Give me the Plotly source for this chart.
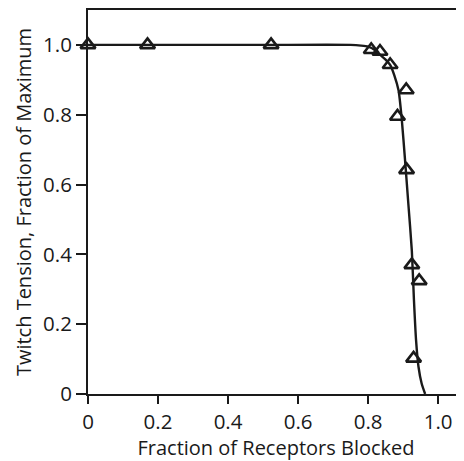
import plotly.graph_objects as go

# Data points (open triangles)
pts_x = [0.0, 0.17, 0.523, 0.809, 0.834, 0.863, 0.909, 0.884, 0.910, 0.925, 0.946, 0.930]
pts_y = [1.0, 1.0, 1.0, 0.986, 0.981, 0.943, 0.871, 0.795, 0.642, 0.37, 0.324, 0.102]

# Fitted curve
curve_x = [0.0, 0.5, 0.75, 0.78, 0.80, 0.82, 0.834, 0.85, 0.863, 0.875, 0.887, 0.896,
           0.906, 0.915, 0.925, 0.931, 0.937, 0.944, 0.953, 0.963]
curve_y = [1.0, 1.0, 1.0, 0.998, 0.995, 0.985, 0.972, 0.958, 0.943, 0.913, 0.87, 0.79,
           0.665, 0.545, 0.41, 0.27, 0.155, 0.078, 0.03, 0.0]

tick_vals = [0, 0.2, 0.4, 0.6, 0.8, 1.0]
tick_text = ["0", "0.2", "0.4", "0.6", "0.8", "1.0"]

ink = "#1a1a1a"
font = "Open Sans"
fs = 20
tfs = 20.5

fig = go.Figure()
fig.add_trace(go.Scatter(x=curve_x, y=curve_y, mode="lines",
                         line=dict(color=ink, width=2.4, shape="spline", smoothing=0.6),
                         hoverinfo="skip", cliponaxis=False))
fig.add_trace(go.Scatter(x=pts_x, y=pts_y, mode="markers",
                         marker=dict(symbol="triangle-up-open", size=13, color=ink,
                                     line=dict(width=2.6, color=ink)),
                         cliponaxis=False))

# the page adds an 8px body margin, so the figure is offset by 8px
fig.update_layout(
    width=456, height=453,
    margin=dict(l=80, r=0, t=2, b=67),
    paper_bgcolor="white", plot_bgcolor="white",
    showlegend=False,
    font=dict(family=font, size=fs, color=ink),
)
fig.update_xaxes(range=[0, 1.074], tickvals=tick_vals, ticktext=tick_text,
                 showgrid=False, zeroline=False, showline=True, linecolor=ink, linewidth=2,
                 mirror=True, ticks="outside", ticklen=8, tickwidth=2, tickcolor=ink,
                 title=dict(text="Fraction of Receptors Blocked", standoff=7,
                            font=dict(family=font, size=fs, color=ink)),
                 tickfont=dict(family=font, size=tfs, color=ink))
fig.update_yaxes(range=[0, 1.10], tickvals=tick_vals, ticktext=tick_text,
                 showgrid=False, zeroline=False, showline=True, linecolor=ink, linewidth=2,
                 ticks="outside", ticklen=10, tickwidth=2, tickcolor=ink,
                 title=dict(text="Twitch Tension, Fraction of Maximum", standoff=6,
                            font=dict(family=font, size=fs, color=ink)),
                 tickfont=dict(family=font, size=tfs, color=ink))

fig.write_html("out.html")
